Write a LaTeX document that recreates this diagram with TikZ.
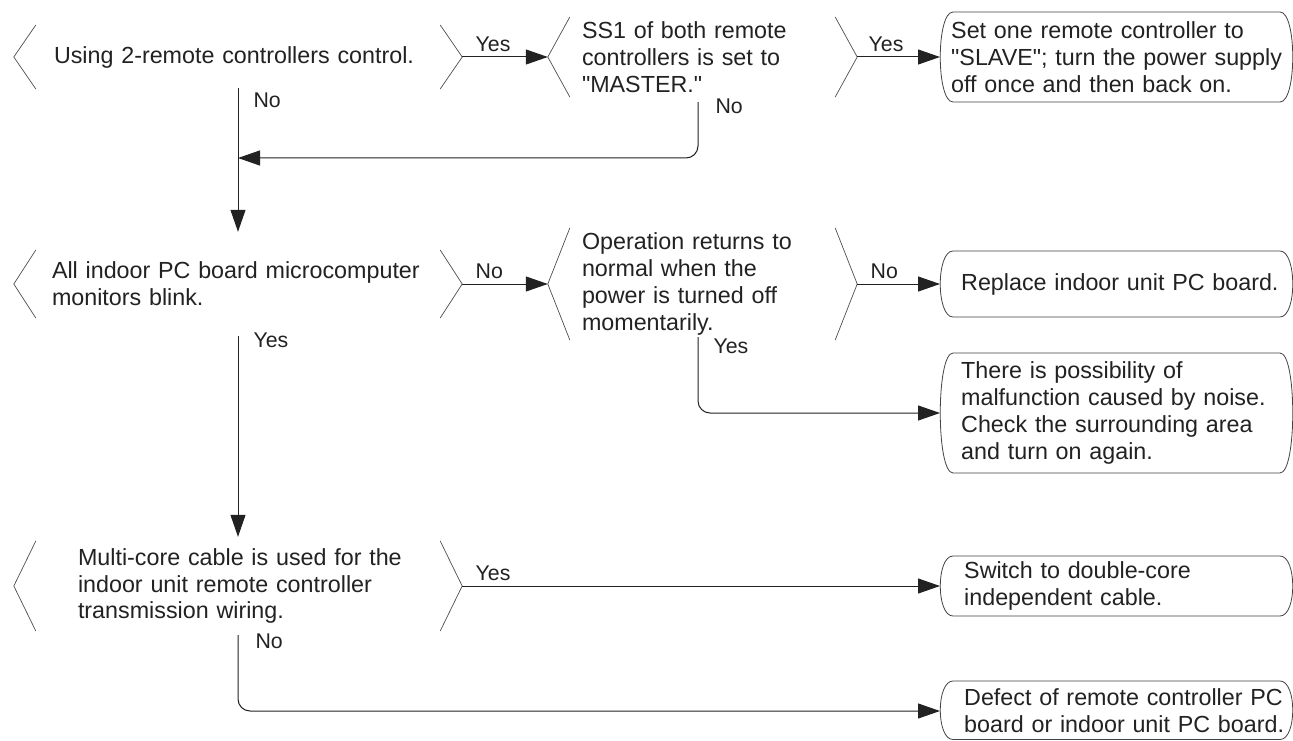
\documentclass[tikz,border=0pt]{standalone}
\usepackage{fontspec}
\setmainfont{Liberation Sans}[Ligatures=TeXOff]
\usetikzlibrary{arrows.meta,calc}
\definecolor{ink}{HTML}{222222}
\newcommand\decbr[2]{\draw[brk] ($(#1.west)+(22,-#2)$) -- (#1.west) -- ($(#1.west)+(22,#2)$) ($(#1.east)+(-22,-#2)$) -- (#1.east) -- ($(#1.east)+(-22,#2)$);}
\newcommand\termbox[2]{\draw[tbox] (953,#1) -- (1280,#1) .. controls +(17,0) and +(17,0) .. (1280,#2) -- (953,#2) .. controls +(-17,0) and +(-17,0) .. (953,#1) -- cycle;}
\begin{document}
\begin{tikzpicture}[x=1pt,y=-1pt,
  txt/.style={font=\fontsize{23.3}{26.7}\selectfont, align=left, inner ysep=0pt, text=ink},
  lbl/.style={font=\fontsize{21.3}{24}\selectfont, inner sep=0pt, text=ink, anchor=base west},
  arr/.style={draw=ink, line width=1pt, -{Triangle[length=22pt,width=15pt]}},
  brk/.style={draw=ink!80, line width=0.7pt},
  tbox/.style={draw=ink!85, line width=0.8pt}]
\fill[white] (0,0) rectangle (1293,741);
\useasboundingbox (0,0) rectangle (1293,741);

% decisions
\node[txt, text width=368pt, inner xsep=40pt, minimum height=62pt] (d1) at (238,57) {\mbox{Using 2-remote controllers control.}};
\node[txt, text width=241pt, inner xsep=34pt, minimum height=90pt] (d2) at (702.5,57) {SS1 of both remote\\controllers is set to\\"MASTER."};
\node[txt, text width=372pt, inner xsep=38pt, minimum height=104pt] (d3) at (238,284) {\mbox{All indoor PC board microcomputer}\\monitors blink.};
\node[txt, text width=241pt, inner xsep=34pt, minimum height=106pt] (d4) at (702.5,284) {Operation returns to\\normal when the\\power is turned off\\momentarily.};
\node[txt, text width=320pt, inner xsep=64pt, minimum height=98pt] (d5) at (238,586) {\mbox{Multi-core cable is used for the}\\indoor unit remote controller\\transmission wiring.};
\decbr{d1}{32}
\decbr{d2}{40}
\decbr{d3}{34}
\decbr{d4}{56}
\decbr{d5}{45}

% terminals
\node[txt, text width=340pt, inner xsep=0pt, anchor=west] (b1) at (951,57) {Set one remote controller to\\"SLAVE"; turn the power supply\\off once and then back on.};
\node[txt, text width=330pt, inner xsep=0pt, anchor=west] (b2) at (961,284) {Replace indoor unit PC board.};
\node[txt, text width=330pt, inner xsep=0pt, anchor=west] (b3) at (961,413) {There is possibility of\\malfunction caused by noise.\\Check the surrounding area\\and turn on again.};
\node[txt, text width=330pt, inner xsep=0pt, anchor=west] (b4) at (964,586) {Switch to double-core\\independent cable.};
\node[txt, text width=330pt, inner xsep=0pt, anchor=west] (b5) at (964,711) {Defect of remote controller PC\\board or indoor unit PC board.};
\termbox{12}{102}
\termbox{251}{317}
\termbox{353}{473}
\termbox{556}{616}
\termbox{681}{739.5}
\coordinate (b1in) at (940,57);
\coordinate (b2in) at (940,284);
\coordinate (b3in) at (940,413);
\coordinate (b4in) at (940,586);
\coordinate (b5in) at (940,711);
\coordinate (j1) at (d1.south |- 0,158);

% connectors
\draw[arr] (d1.east) -- node[lbl, pos=0, xshift=13pt, yshift=5pt] {Yes} (d2.west);
\draw[arr] (d2.east) -- node[lbl, pos=0, xshift=11pt, yshift=5pt] {Yes} (b1in);
\draw[arr] (d1.south) -- node[lbl, pos=0, xshift=15pt, yshift=-19pt] {No} (d3.north);
\draw[arr, rounded corners=12pt] ([xshift=-4.5pt]d2.south) |- node[lbl, pos=0, xshift=17pt, yshift=-11pt] {No} (j1);
\draw[arr] (d3.east) -- node[lbl, pos=0, xshift=13pt, yshift=6pt] {No} (d4.west);
\draw[arr] (d4.east) -- node[lbl, pos=0, xshift=13pt, yshift=6pt] {No} (b2in);
\draw[arr, rounded corners=12pt] ([xshift=-4.5pt]d4.south) |- node[lbl, pos=0, xshift=15pt, yshift=-16pt] {Yes} (b3in);
\draw[arr] (d3.south) -- node[lbl, pos=0, xshift=15pt, yshift=-11pt] {Yes} (d5.north);
\draw[arr] (d5.east) -- node[lbl, pos=0, xshift=13pt, yshift=6pt] {Yes} (b4in);
\draw[arr, rounded corners=12pt] (d5.south) |- node[lbl, pos=0, xshift=17pt, yshift=-13pt] {No} (b5in);
\end{tikzpicture}
\end{document}
